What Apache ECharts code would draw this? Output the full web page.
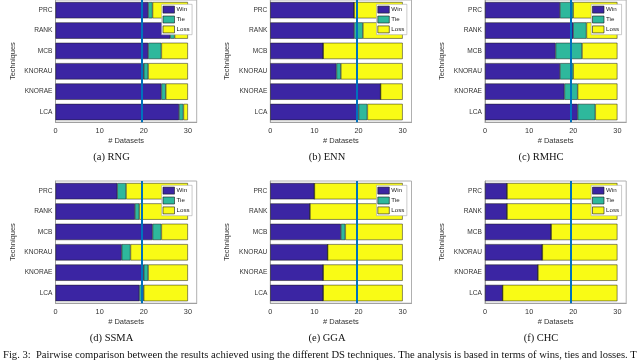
<!DOCTYPE html>
<html>
<head>
<meta charset="utf-8">
<script src="https://cdn.jsdelivr.net/npm/echarts@6/dist/echarts.min.js"></script>
<style>html,body{margin:0;padding:0;background:#fff;}#chart{width:640px;height:360px;}</style>
</head>
<body>
<div id="chart"></div>
<script>
const categories = ['PRC', 'RANK', 'MCB', 'KNORAU', 'KNORAE', 'LCA'];
const seriesNames = ['Win', 'Tie', 'Loss'];
const panelTitles = ['(a) RNG', '(b) ENN', '(c) RMHC', '(d) SSMA', '(e) GGA', '(f) CHC'];
const xTickValues = [0, 10, 20, 30];
const thresholdValue = 19.5;

const rngWin  = [21, 26, 21, 20, 24, 28];
const rngTie  = [1, 1, 3, 1, 1, 1];
const rngLoss = [8, 3, 6, 9, 5, 1];

const ennWin  = [19, 19, 12, 15, 25, 20];
const ennTie  = [0, 2, 0, 1, 0, 2];
const ennLoss = [11, 9, 18, 14, 5, 8];

const rmhcWin  = [17, 20, 16, 17, 18, 21];
const rmhcTie  = [3, 3, 6, 3, 3, 4];
const rmhcLoss = [10, 7, 8, 10, 9, 5];

const ssmaWin  = [14, 18, 22, 15, 20, 19];
const ssmaTie  = [2, 1, 2, 2, 1, 1];
const ssmaLoss = [14, 11, 6, 13, 9, 10];

const ggaWin  = [10, 9, 16, 13, 12, 12];
const ggaTie  = [0, 0, 1, 0, 0, 0];
const ggaLoss = [20, 21, 13, 17, 18, 18];

const chcWin  = [5, 5, 15, 13, 12, 4];
const chcTie  = [0, 0, 0, 0, 0, 0];
const chcLoss = [25, 25, 15, 17, 18, 26];

const figureCaption = 'Fig. 3:  Pairwise comparison between the results achieved using the different DS techniques. The analysis is based in terms of wins, ties and losses. T';

const panels = [
  [rngWin, rngTie, rngLoss],
  [ennWin, ennTie, ennLoss],
  [rmhcWin, rmhcTie, rmhcLoss],
  [ssmaWin, ssmaTie, ssmaLoss],
  [ggaWin, ggaTie, ggaLoss],
  [chcWin, chcTie, chcLoss]
];

const colors = ['#3B25A3', '#2EB89C', '#F9FB15'];
const lefts = [55.5, 270.3, 485];
const tops = [0, 181];
const gridW = 141.2;
const gridH = 122.2;
const captionCx = [111.5, 327, 541];
const captionCy = [157.5, 338];
const textColor = '#333';
const sans = 'Liberation Sans';

const grid = [], xAxis = [], yAxis = [], series = [], legend = [], graphic = [];
panels.forEach((p, i) => {
  const col = i % 3, row = Math.floor(i / 3);
  grid.push({
    left: lefts[col], top: tops[row], width: gridW, height: gridH,
    show: true, borderColor: '#b0b0b0', borderWidth: 1, backgroundColor: 'transparent'
  });
  xAxis.push({
    gridIndex: i, type: 'value', min: 0, max: 32, interval: 10,
    name: '# Datasets', nameLocation: 'middle', nameGap: 15,
    nameTextStyle: { fontFamily: sans, fontSize: 7.5, color: textColor },
    axisLine: { show: true, lineStyle: { color: '#a0a0a0', width: 1 } },
    axisTick: { show: false },
    splitLine: { show: false },
    axisLabel: { fontFamily: sans, fontSize: 7.3, color: textColor, margin: 5, showMaxLabel: false,
      formatter: v => (xTickValues.indexOf(v) >= 0 ? String(v) : '') }
  });
  yAxis.push({
    gridIndex: i, type: 'category', data: categories, inverse: true,
    name: 'Techniques', nameLocation: 'middle', nameGap: 39, nameRotate: 90,
    nameTextStyle: { fontFamily: sans, fontSize: 7.5, color: textColor },
    axisLine: { show: true, lineStyle: { color: '#a0a0a0', width: 1 } },
    axisTick: { show: false },
    axisLabel: { fontFamily: sans, fontSize: 6.6, color: textColor, margin: 3 }
  });
  seriesNames.forEach((name, k) => {
    const s = {
      name: name, type: 'bar', stack: 'st' + i, xAxisIndex: i, yAxisIndex: i,
      data: p[k], barWidth: '80%',
      itemStyle: { color: colors[k], borderColor: '#1a1a1a', borderWidth: 0.5 },
      emphasis: { disabled: true },
      animation: false
    };
    if (k === 2) {
      s.markLine = {
        silent: true, symbol: 'none', label: { show: false },
        lineStyle: { color: '#0072BD', width: 2, type: 'solid' },
        data: [{ xAxis: thresholdValue }],
        animation: false
      };
    }
    series.push(s);
  });
  legend.push({
    data: seriesNames, orient: 'vertical',
    left: lefts[col] + 106.2, top: tops[row] + 4.3,
    itemWidth: 11.5, itemHeight: 7, itemGap: 2.3,
    padding: [1.5, 2.5, 1.5, 1],
    backgroundColor: '#fff', borderColor: '#a8a8a8', borderWidth: 0.6, borderRadius: 0,
    icon: 'rect', selectedMode: false,
    itemStyle: { borderColor: '#1a1a1a', borderWidth: 0.6 },
    textStyle: { fontFamily: sans, fontSize: 6.2, color: '#222', padding: [0, 0, 0, -3], lineHeight: 7 }
  });
  graphic.push({
    type: 'text', silent: true,
    style: { text: panelTitles[i], x: captionCx[col], y: captionCy[row], align: 'center', verticalAlign: 'middle',
      font: '10.5px "Liberation Serif"', fill: '#111' }
  });
});
graphic.push({
  type: 'text', silent: true,
  style: { text: figureCaption, x: 3, y: 355, align: 'left', verticalAlign: 'middle',
    font: '10.6px "Liberation Serif"', fill: '#111' }
});

const chart = echarts.init(document.getElementById('chart'), null, { renderer: 'canvas' });
chart.setOption({
  animation: false,
  backgroundColor: '#fff',
  grid, xAxis, yAxis, series, legend, graphic
});
</script>
</body>
</html>
